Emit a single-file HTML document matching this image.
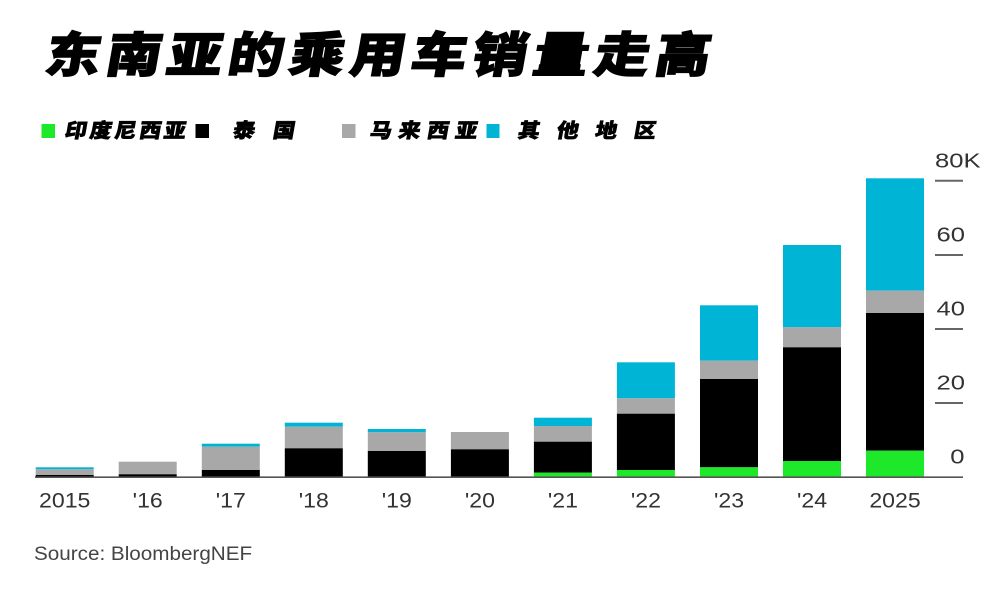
<!DOCTYPE html>
<html>
<head>
<meta charset="utf-8">
<style>
html,body{margin:0;padding:0;background:#fff;}
svg{display:block;}
.t{font-family:"Liberation Sans","Noto Sans CJK SC",sans-serif;font-weight:900;fill:#000;}
.lat{font-family:"Liberation Sans",sans-serif;fill:#333;}
</style>
</head>
<body>
<svg width="1000" height="593" viewBox="0 0 1000 593" xmlns="http://www.w3.org/2000/svg">
<rect width="1000" height="593" fill="#fff"/>
<!-- Title -->
<g class="t" font-size="48" stroke="#000" stroke-width="1.3">
<text transform="translate(43,72) skewX(-10) scale(1.15,1)">东</text>
<text transform="translate(104,72) skewX(-10) scale(1.15,1)">南</text>
<text transform="translate(165,72) skewX(-10) scale(1.15,1)">亚</text>
<text transform="translate(226,72) skewX(-10) scale(1.15,1)">的</text>
<text transform="translate(287,72) skewX(-10) scale(1.15,1)">乘</text>
<text transform="translate(348,72) skewX(-10) scale(1.15,1)">用</text>
<text transform="translate(409,72) skewX(-10) scale(1.15,1)">车</text>
<text transform="translate(470,72) skewX(-10) scale(1.15,1)">销</text>
<text transform="translate(531,72) skewX(-10) scale(1.15,1)">量</text>
<text transform="translate(592,72) skewX(-10) scale(1.15,1)">走</text>
<text transform="translate(653,72) skewX(-10) scale(1.15,1)">高</text>
</g>
<!-- Legend -->
<rect x="41.5" y="124" width="13.5" height="14" fill="#1ee82a"/>
<rect x="195.5" y="124" width="13.5" height="14" fill="#000"/>
<rect x="342" y="124" width="13.5" height="14" fill="#a8a8a8"/>
<rect x="486.5" y="124" width="13" height="14" fill="#00b4d6"/>
<g class="t" font-size="20" stroke="#000" stroke-width="0.6">
<text transform="translate(64,137.6) skewX(-10) scale(1.1,1)">印</text>
<text transform="translate(88.75,137.6) skewX(-10) scale(1.1,1)">度</text>
<text transform="translate(113.5,137.6) skewX(-10) scale(1.1,1)">尼</text>
<text transform="translate(138.25,137.6) skewX(-10) scale(1.1,1)">西</text>
<text transform="translate(163,137.6) skewX(-10) scale(1.1,1)">亚</text>
<text transform="translate(232,137.6) skewX(-10) scale(1.1,1)">泰</text>
<text transform="translate(272,137.6) skewX(-10) scale(1.1,1)">国</text>
<text transform="translate(369,137.6) skewX(-10) scale(1.1,1)">马</text>
<text transform="translate(397.5,137.6) skewX(-10) scale(1.1,1)">来</text>
<text transform="translate(426,137.6) skewX(-10) scale(1.1,1)">西</text>
<text transform="translate(454.5,137.6) skewX(-10) scale(1.1,1)">亚</text>
<text transform="translate(517,137.6) skewX(-10) scale(1.1,1)">其</text>
<text transform="translate(555.7,137.6) skewX(-10) scale(1.1,1)">他</text>
<text transform="translate(594.3,137.6) skewX(-10) scale(1.1,1)">地</text>
<text transform="translate(633,137.6) skewX(-10) scale(1.1,1)">区</text>
</g>
<!-- Bars -->
<g>
<!-- 2015 -->
<rect x="35.7" y="467.3" width="58" height="2" fill="#00b4d6"/>
<rect x="35.7" y="469.3" width="58" height="5.7" fill="#a8a8a8"/>
<rect x="35.7" y="475" width="58" height="2" fill="#000"/>
<!-- 16 -->
<rect x="118.7" y="461.7" width="58" height="12.6" fill="#a8a8a8"/>
<rect x="118.7" y="474.3" width="58" height="2.7" fill="#000"/>
<!-- 17 -->
<rect x="201.8" y="443.7" width="58" height="3" fill="#00b4d6"/>
<rect x="201.8" y="446.7" width="58" height="23.3" fill="#a8a8a8"/>
<rect x="201.8" y="470" width="58" height="7" fill="#000"/>
<!-- 18 -->
<rect x="284.8" y="422.7" width="58" height="4" fill="#00b4d6"/>
<rect x="284.8" y="426.7" width="58" height="21.6" fill="#a8a8a8"/>
<rect x="284.8" y="448.3" width="58" height="28.7" fill="#000"/>
<!-- 19 -->
<rect x="367.8" y="429" width="58" height="3.3" fill="#00b4d6"/>
<rect x="367.8" y="432.3" width="58" height="18.7" fill="#a8a8a8"/>
<rect x="367.8" y="451" width="58" height="26" fill="#000"/>
<!-- 20 -->
<rect x="450.9" y="432" width="58" height="17.3" fill="#a8a8a8"/>
<rect x="450.9" y="449.3" width="58" height="27.7" fill="#000"/>
<!-- 21 -->
<rect x="533.9" y="417.7" width="58" height="8.3" fill="#00b4d6"/>
<rect x="533.9" y="426" width="58" height="15.7" fill="#a8a8a8"/>
<rect x="533.9" y="441.7" width="58" height="31" fill="#000"/>
<rect x="533.9" y="472.7" width="58" height="4.3" fill="#1ee82a"/>
<!-- 22 -->
<rect x="616.9" y="362.3" width="58" height="36" fill="#00b4d6"/>
<rect x="616.9" y="398.3" width="58" height="15.4" fill="#a8a8a8"/>
<rect x="616.9" y="413.7" width="58" height="56.3" fill="#000"/>
<rect x="616.9" y="470" width="58" height="7" fill="#1ee82a"/>
<!-- 23 -->
<rect x="700" y="305.3" width="58" height="55.4" fill="#00b4d6"/>
<rect x="700" y="360.7" width="58" height="18.3" fill="#a8a8a8"/>
<rect x="700" y="379" width="58" height="88.3" fill="#000"/>
<rect x="700" y="467.3" width="58" height="9.7" fill="#1ee82a"/>
<!-- 24 -->
<rect x="783" y="245" width="58" height="82.3" fill="#00b4d6"/>
<rect x="783" y="327.3" width="58" height="20" fill="#a8a8a8"/>
<rect x="783" y="347.3" width="58" height="113.7" fill="#000"/>
<rect x="783" y="461" width="58" height="16" fill="#1ee82a"/>
<!-- 25 -->
<rect x="866" y="178.3" width="58" height="112.4" fill="#00b4d6"/>
<rect x="866" y="290.7" width="58" height="22.3" fill="#a8a8a8"/>
<rect x="866" y="313" width="58" height="137.7" fill="#000"/>
<rect x="866" y="450.7" width="58" height="26.3" fill="#1ee82a"/>
</g>
<!-- Axis -->
<line x1="35" y1="477.2" x2="963" y2="477.2" stroke="#555" stroke-width="1.6"/>
<g stroke="#666" stroke-width="2">
<line x1="935" y1="180.7" x2="963" y2="180.7"/>
<line x1="935" y1="255" x2="963" y2="255"/>
<line x1="935" y1="329" x2="963" y2="329"/>
<line x1="935" y1="403" x2="963" y2="403"/>
</g>
<!-- Right axis labels -->
<g class="lat" font-size="20">
<text transform="translate(935,167.3) scale(1.28,1)">80K</text>
<text transform="translate(965,241.3) scale(1.28,1)" text-anchor="end">60</text>
<text transform="translate(965,315.3) scale(1.28,1)" text-anchor="end">40</text>
<text transform="translate(965,389.3) scale(1.28,1)" text-anchor="end">20</text>
<text transform="translate(964.5,463.3) scale(1.28,1)" text-anchor="end">0</text>
</g>
<!-- X labels -->
<g class="lat" font-size="21" text-anchor="middle">
<text transform="translate(64.7,507.3) scale(1.1,1)">2015</text>
<text transform="translate(147.7,507.3) scale(1.1,1)">'16</text>
<text transform="translate(230.8,507.3) scale(1.1,1)">'17</text>
<text transform="translate(313.8,507.3) scale(1.1,1)">'18</text>
<text transform="translate(396.8,507.3) scale(1.1,1)">'19</text>
<text transform="translate(479.9,507.3) scale(1.1,1)">'20</text>
<text transform="translate(562.9,507.3) scale(1.1,1)">'21</text>
<text transform="translate(645.9,507.3) scale(1.1,1)">'22</text>
<text transform="translate(729,507.3) scale(1.1,1)">'23</text>
<text transform="translate(812,507.3) scale(1.1,1)">'24</text>
<text transform="translate(895,507.3) scale(1.1,1)">2025</text>
</g>
<!-- Source -->
<text class="lat" font-size="19.5" fill="#444" style="fill:#444" transform="translate(34,560) scale(1.06,1)">Source: BloombergNEF</text>
</svg>
</body>
</html>
